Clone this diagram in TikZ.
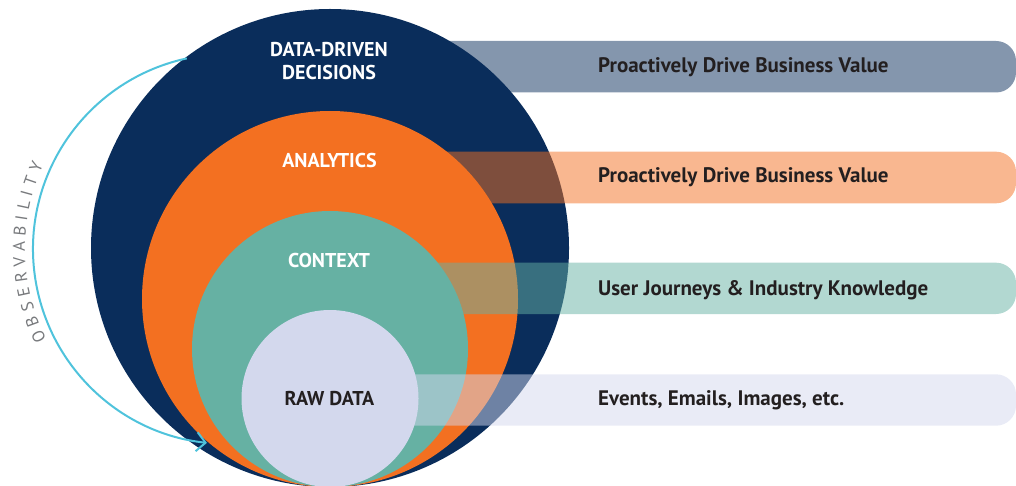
\documentclass[tikz,border=0pt]{standalone}
\usepackage{fontspec}
\setmainfont{PT Sans}
\usetikzlibrary{arrows.meta,decorations.text}
\definecolor{navy}{RGB}{10,45,91}
\definecolor{orng}{RGB}{243,112,33}
\definecolor{tealc}{RGB}{102,177,163}
\definecolor{lav}{RGB}{211,216,237}
\definecolor{cyanarc}{RGB}{79,195,220}
\definecolor{ink}{RGB}{35,31,32}
\definecolor{obsgray}{RGB}{120,122,125}
\begin{document}
\begin{tikzpicture}[x=1pt,y=1pt,
  ring/.style={circle, inner sep=0pt, minimum size=#1, draw=none},
  lvl/.style={font=\bfseries\fontsize{20}{22}\selectfont, text=white, anchor=base, inner sep=0pt},
  bandtext/.style={font=\bfseries\fontsize{21}{23}\selectfont, text=ink, anchor=base west, inner sep=0pt},
  band/.style={fill=#1, fill opacity=0.5},
]
\useasboundingbox (0,0) rectangle (1016,485);
\clip (0,0) rectangle (1016,485);
% circles
\node[ring=478, fill=navy] (c1) at (330,237) {};
\node[ring=376, fill=orng] (c2) at (330,186) {};
\node[ring=276, fill=tealc] (c3) at (330,136) {};
\node[ring=177, fill=lav] (c4) at (330,86.5) {};
% bands
\fill[band=navy] (410,444) {[rounded corners=20pt] -- (1016,444) -- (1016,392.5)} -- (410,392.5) -- cycle;
\fill[band=orng] (410,333.3) {[rounded corners=20pt] -- (1016,333.3) -- (1016,281.7)} -- (410,281.7) -- cycle;
\fill[band=tealc] (410,222.3) {[rounded corners=20pt] -- (1016,222.3) -- (1016,171)} -- (410,171) -- cycle;
\fill[band=lav] (410,110.7) {[rounded corners=20pt] -- (1016,110.7) -- (1016,59.3)} -- (410,59.3) -- cycle;
% circle labels
\node[lvl] (l1a) at (329,428.3) {DATA-DRIVEN};
\node[lvl] (l1b) at (329,405) {DECISIONS};
\node[lvl] (l2) at (329.5,317) {ANALYTICS};
\node[lvl] (l3) at (329,218) {CONTEXT};
\node[lvl, text=ink] (l4) at (329.5,79.3) {RAW DATA};
% band labels
\node[bandtext] (t1) at (598,412) {Proactively Drive Business Value};
\node[bandtext] (t2) at (598,302) {Proactively Drive Business Value};
\node[bandtext] (t3) at (598,190) {User Journeys \& Industry Knowledge};
\node[bandtext] (t4) at (598,79.3) {Events, Emails, Images, etc.};
% observability arc
\draw[cyanarc, line width=2pt, -{Straight Barb[length=9pt, width=19pt]}]
  ([shift={(102.2:195)}]228,236) arc[start angle=102.2, end angle=263.8, radius=195];
\path[decorate, decoration={text along path, text align=fit to path,
  text={|\fontsize{17}{18}\selectfont\color{obsgray}|OBSERVABILITY}}]
  ([shift={(206.5:203)}]228,236) arc[start angle=206.5, end angle=155.5, radius=203];
\end{tikzpicture}
\end{document}
